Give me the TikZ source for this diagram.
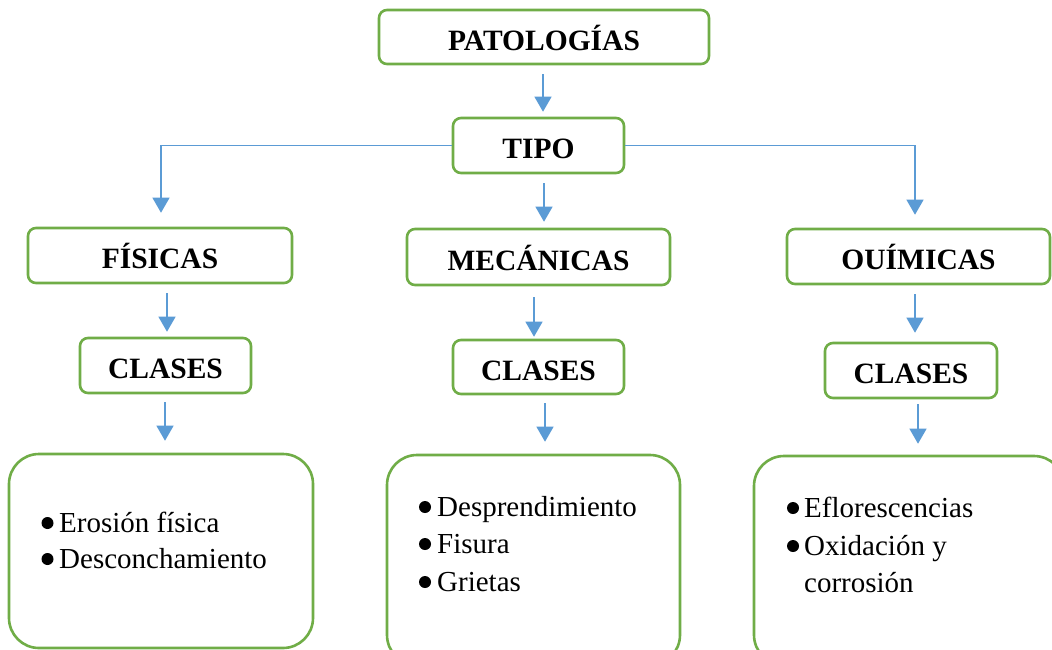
\documentclass[tikz,border=0pt]{standalone}
\usepackage{fontspec}
\setmainfont{Liberation Serif}
\usetikzlibrary{arrows.meta}
\definecolor{boxgreen}{HTML}{70AD47}
\definecolor{arrblue}{HTML}{5B9BD5}
\tikzset{
  lab/.style={draw=boxgreen, line width=2.6pt, rounded corners=8pt, fill=white,
    font=\fontsize{29.5}{35}\selectfont\bfseries, text height=26pt, text depth=0pt, inner sep=0pt},
  bigbox/.style={draw=boxgreen, line width=2.6pt, rounded corners=30pt, inner sep=0pt},
  arr/.style={draw=arrblue, line width=1.2pt, -{Triangle[width=17pt,length=15pt]}},
  itm/.style={font=\fontsize{29}{35}\selectfont, anchor=base west, inner sep=0pt},
  bul/.style={circle, fill=black, draw=none, minimum size=12pt, inner sep=0pt},
}
\begin{document}
\begin{tikzpicture}[x=1pt,y=-1pt]
\useasboundingbox (0,0) rectangle (1052,649);
\clip (0,0) rectangle (1052,649);
\fill[white] (0,0) rectangle (1052,649);

% boxes
\node[lab, minimum width=330pt, minimum height=54pt] (pat) at (544,37) {PATOLOGÍAS};
\node[lab, minimum width=171pt, minimum height=55pt] (tipo) at (538.5,145.5) {TIPO};
\node[lab, minimum width=264pt, minimum height=55pt] (fis) at (160,255.5) {FÍSICAS};
\node[lab, minimum width=263pt, minimum height=56pt] (mec) at (538.5,257) {MECÁNICAS};
\node[lab, minimum width=263pt, minimum height=55pt] (qui) at (918.5,256.5) {OUÍMICAS};
\node[lab, minimum width=171pt, minimum height=55pt] (cl1) at (165.5,365.5) {CLASES};
\node[lab, minimum width=171pt, minimum height=54pt] (cl2) at (538.5,367) {CLASES};
\node[lab, minimum width=172pt, minimum height=55pt] (cl3) at (911,370.5) {CLASES};

\node[bigbox, minimum width=304pt, minimum height=194pt] (b1) at (161,551) {};
\node[bigbox, minimum width=293pt, minimum height=210pt] (b2) at (533.5,560) {};
\node[bigbox, minimum width=310pt, minimum height=209pt] (b3) at (909,560.5) {};

% items
\node[bul] (b1p1) at (47.5,523) {};
\node[itm] (b1t1) at (59,532) {Erosión física};
\node[bul] (b1p2) at (47.5,559) {};
\node[itm] (b1t2) at (59,568) {Desconchamiento};

\node[bul] (b2p1) at (425,507) {};
\node[itm] (b2t1) at (437,516) {Desprendimiento};
\node[bul] (b2p2) at (425,544) {};
\node[itm] (b2t2) at (437,553) {Fisura};
\node[bul] (b2p3) at (425,582) {};
\node[itm] (b2t3) at (437,591) {Grietas};

\node[bul] (b3p1) at (793,508) {};
\node[itm] (b3t1) at (804,517) {Eflorescencias};
\node[bul] (b3p2) at (793,546) {};
\node[itm] (b3t2) at (804,555) {Oxidación y};
\node[itm] (b3t3) at (804,592) {corrosión};

% connectors
\draw[arr] ([xshift=-1pt,yshift=-9pt]pat.south) -- ([xshift=4.5pt,yshift=5pt]tipo.north);
\draw[arr] ([xshift=5.5pt,yshift=-9pt]tipo.south) -- ([xshift=5.5pt,yshift=6pt]mec.north);
\draw[arr] (tipo.west) -| ([xshift=1pt,yshift=14pt]fis.north);
\draw[arr] (tipo.east) -| ([xshift=-3.5pt,yshift=13pt]qui.north);

\draw[arr] ([xshift=7pt,yshift=-9pt]fis.south) -- ([xshift=1.5pt,yshift=5pt]cl1.north);
\draw[arr] ([xshift=-4.5pt,yshift=-11pt]mec.south) -- ([xshift=-4.5pt,yshift=2pt]cl2.north);
\draw[arr] ([xshift=-3.5pt,yshift=-9pt]qui.south) -- ([xshift=4pt,yshift=9pt]cl3.north);

\draw[arr] ([xshift=-0.5pt,yshift=-8pt]cl1.south) -- ([xshift=4pt,yshift=12pt]b1.north);
\draw[arr] ([xshift=6.5pt,yshift=-8pt]cl2.south) -- ([xshift=11.5pt,yshift=12pt]b2.north);
\draw[arr] ([xshift=7pt,yshift=-5pt]cl3.south) -- ([xshift=9pt,yshift=11pt]b3.north);
\end{tikzpicture}
\end{document}
